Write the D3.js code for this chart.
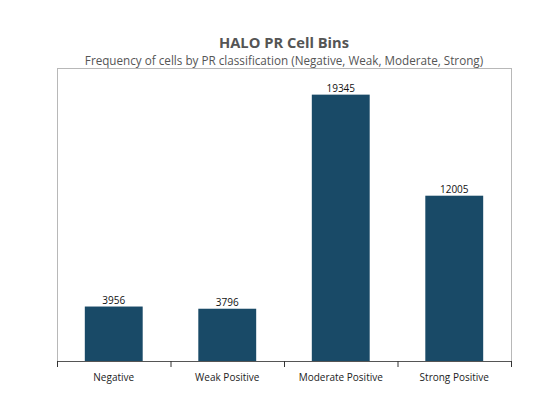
<!DOCTYPE html>
<html>
<head>
<script src="https://d3js.org/d3.v7.min.js"></script>
<style>
  body { margin: 0; background: #fff; }
  text { font-family: "Open Sans", "Noto Sans", sans-serif; }
</style>
</head>
<body>
<svg id="chart" width="560" height="420"></svg>
<script>
var categories = ["Negative", "Weak Positive", "Moderate Positive", "Strong Positive"];
var counts = [3956, 3796, 19345, 12005];

var svg = d3.select("#chart"),
    margin = {top: 68, right: 49, bottom: 59, left: 57},
    width = 560 - margin.left - margin.right,
    height = 420 - margin.top - margin.bottom;

var g = svg.append("g").attr("transform", "translate(" + margin.left + "," + margin.top + ")");

var x = d3.scaleBand().domain(categories).range([0, width]).paddingInner(0.49).paddingOuter(0.245);
var y = d3.scaleLinear().domain([0, d3.max(counts) * 1.1]).range([height, 0]);

// frame
g.append("rect")
  .attr("x", 0.5).attr("y", 0.5)
  .attr("width", width).attr("height", height)
  .attr("fill", "none").attr("stroke", "#b8b8b8");

// bars
g.selectAll(".bar")
  .data(counts)
  .enter().append("rect")
  .attr("class", "bar")
  .attr("x", function(d, i) { return x(categories[i]); })
  .attr("y", function(d) { return y(d); })
  .attr("width", x.bandwidth())
  .attr("height", function(d) { return height - y(d); })
  .attr("fill", "#194a67");

// value labels
g.selectAll(".lbl")
  .data(counts)
  .enter().append("text")
  .attr("class", "lbl")
  .attr("x", function(d, i) { return x(categories[i]) + x.bandwidth() / 2; })
  .attr("y", function(d) { return y(d) - 3; })
  .attr("text-anchor", "middle")
  .attr("font-size", 10)
  .attr("fill", "#111")
  .text(function(d) { return d; });

// x axis with ticks at band boundaries
var tickX = d3.range(categories.length + 1).map(function(i) { return i * width / categories.length; });
var ax = g.append("g").attr("transform", "translate(0," + height + ")");
ax.append("line").attr("x1", 0).attr("x2", width).attr("y1", 0.5).attr("y2", 0.5).attr("stroke", "#555");
ax.selectAll(".tk").data(tickX).enter().append("line")
  .attr("x1", function(d) { return d + 0.5; }).attr("x2", function(d) { return d + 0.5; })
  .attr("y1", 0).attr("y2", 6).attr("stroke", "#333");
ax.selectAll(".cat").data(categories).enter().append("text")
  .attr("x", function(d) { return x(d) + x.bandwidth() / 2; })
  .attr("y", 20)
  .attr("text-anchor", "middle")
  .attr("font-size", 10)
  .attr("fill", "#222")
  .text(function(d) { return d; });

// titles
svg.append("text")
  .attr("x", margin.left + width / 2).attr("y", 47.5)
  .attr("text-anchor", "middle")
  .attr("font-size", 14.7).attr("font-weight", "bold").attr("fill", "#555")
  .text("HALO PR Cell Bins");
svg.append("text")
  .attr("x", margin.left + width / 2).attr("y", 64.5)
  .attr("text-anchor", "middle")
  .attr("font-size", 11.7).attr("fill", "#555")
  .text("Frequency of cells by PR classification (Negative, Weak, Moderate, Strong)");
</script>
</body>
</html>
